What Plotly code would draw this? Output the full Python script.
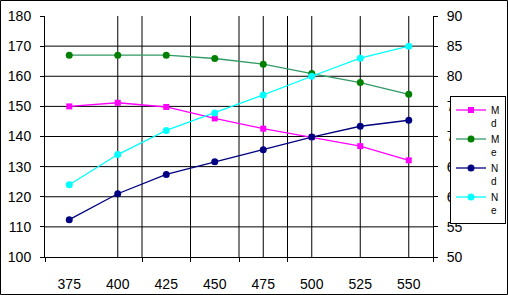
import plotly.graph_objects as go

# ---- data ----
categories = [375, 400, 425, 450, 475, 500, 525, 550]
series_md = [150.0, 151.2, 149.8, 146.0, 142.6, 139.8, 136.8, 132.1]   # left axis
series_me = [167.0, 167.0, 167.0, 165.9, 164.0, 160.9, 157.9, 154.0]   # left axis
series_nd = [56.2, 60.5, 63.7, 65.8, 67.8, 69.9, 71.7, 72.7]           # right axis
series_ne = [62.0, 67.0, 71.0, 73.9, 76.9, 80.0, 83.0, 85.0]           # right axis
names = ["M<br>d", "M<br>e", "N<br>d", "N<br>e"]
left_ticks = [100, 110, 120, 130, 140, 150, 160, 170, 180]
right_ticks = [50, 55, 60, 65, 70, 75, 80, 85, 90]
vgrid_x = [400, 412.5, 437.5, 462.5, 475, 487.5, 500, 525, 550]
boundary_ticks = [362.5, 412.5, 437.5, 462.5, 487.5, 562.5]

FONT = "Liberation Sans, Arial, sans-serif"
W, H = 508, 295
ML, MR, MT, MB = 45, 75, 16, 38
PW, PH = W - ML - MR, H - MT - MB

fig = go.Figure()
fig.add_trace(go.Scatter(x=categories, y=series_md, name=names[0], mode="lines+markers",
                         line=dict(color="#FF00FF", width=1.3),
                         marker=dict(symbol="square", size=6, color="#FF00FF")))
fig.add_trace(go.Scatter(x=categories, y=series_me, name=names[1], mode="lines+markers",
                         line=dict(color="#339966", width=1.3),
                         marker=dict(symbol="circle", size=7, color="#008000")))
fig.add_trace(go.Scatter(x=categories, y=series_nd, name=names[2], mode="lines+markers", yaxis="y2",
                         line=dict(color="#000080", width=1.3),
                         marker=dict(symbol="circle", size=7, color="#000080")))
fig.add_trace(go.Scatter(x=categories, y=series_ne, name=names[3], mode="lines+markers", yaxis="y2",
                         line=dict(color="#00FFFF", width=1.3),
                         marker=dict(symbol="circle", size=7, color="#00FFFF")))

shapes = []
for v in left_ticks[1:-1]:
    shapes.append(dict(type="line", xref="paper", yref="y", x0=0, x1=1, y0=v, y1=v,
                       line=dict(color="black", width=1), layer="below"))
for v in vgrid_x:
    shapes.append(dict(type="line", xref="x", yref="paper", x0=v, x1=v, y0=0, y1=1,
                       line=dict(color="black", width=1), layer="below"))
# outer chart border
shapes.append(dict(type="rect", xref="paper", yref="paper",
                   x0=(0.5 - ML) / PW, x1=(W - 0.5 - ML) / PW,
                   y0=-(MB - 0.5) / PH, y1=1 + (MT - 0.5) / PH,
                   line=dict(color="black", width=1), fillcolor="rgba(0,0,0,0)"))

fig.update_layout(
    width=W, height=H,
    margin=dict(l=ML, r=MR, t=MT, b=MB, autoexpand=False),
    paper_bgcolor="white", plot_bgcolor="white",
    font=dict(family=FONT, size=14, color="black"),
    showlegend=True,
    legend=dict(x=(W - 2 - ML) / PW, xanchor="right", y=(MB + PH - 118) / PH, yanchor="top",
                bgcolor="white", bordercolor="black", borderwidth=1,
                font=dict(family=FONT, size=10, color="black"),
                valign="top", tracegroupgap=0, itemwidth=30),
    xaxis=dict(range=[362.5, 562.5], tickmode="array", tickvals=categories,
               ticktext=[str(c) for c in categories], ticks="", showgrid=False, zeroline=False,
               showline=True, linecolor="black", linewidth=1, ticklabelstandoff=14,
               minor=dict(tickmode="array", tickvals=boundary_ticks, ticks="outside",
                          ticklen=4, tickcolor="black", showgrid=False)),
    yaxis=dict(range=[100, 180], tickmode="array", tickvals=left_ticks, ticks="outside",
               ticklen=4, tickcolor="black", showgrid=False, zeroline=False,
               showline=True, linecolor="black", linewidth=1, ticklabelstandoff=6),
    yaxis2=dict(range=[50, 90], tickmode="array", tickvals=right_ticks, ticks="outside",
                ticklen=4, tickcolor="black", showgrid=False, zeroline=False,
                overlaying="y", side="right", anchor="x",
                showline=True, linecolor="black", linewidth=1, ticklabelstandoff=6),
    shapes=shapes,
)

fig.write_html("out.html")
